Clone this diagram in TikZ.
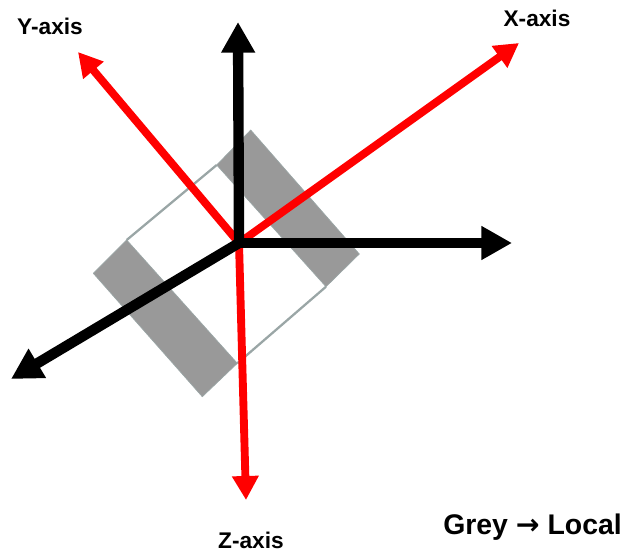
\documentclass[tikz,border=0pt]{standalone}
\usepackage{fontspec}
\setmainfont{Liberation Sans}
\newfontfamily\arrowfont{DejaVu Sans}
\usetikzlibrary{arrows.meta}
\definecolor{barfill}{HTML}{999999}
\definecolor{frameedge}{HTML}{9AA6A6}
\tikzset{
  bar/.style={fill=barfill,draw=frameedge,line width=0.5pt,line join=round},
  frameline/.style={draw=frameedge,line width=1.7pt},
  redaxis/.style={draw=red,line width=5.9pt,-{Triangle[length=18pt,width=19pt]}},
  blackaxis/.style={draw=black,line width=7.8pt,-{Triangle[length=23pt,width=24pt]}},
  axislabel/.style={inner sep=0pt,font=\bfseries\fontsize{17}{18}\selectfont},
  legend/.style={inner sep=0pt,font=\bfseries\fontsize{21.3}{24}\selectfont}
}
\begin{document}
\begin{tikzpicture}[x=0.75pt,y=-0.75pt]
\useasboundingbox (0,0) rectangle (624,552);
\fill[white] (0,0) rectangle (624,552);
% frame
\coordinate (i1) at (216.7,165);
\coordinate (t) at (250.7,130);
\coordinate (r) at (359.3,254);
\coordinate (i2) at (326,286.7);
\coordinate (l1) at (126.7,240);
\coordinate (l2) at (93.3,273.3);
\coordinate (b) at (202.3,396.7);
\coordinate (i3) at (237.3,363.3);
\draw[frameline] (i1) -- (l1);
\draw[frameline] (i2) -- (i3);
\path[bar] (i1) -- (t) -- (r) -- (i2) -- cycle;
\path[bar] (l1) -- (l2) -- (b) -- (i3) -- cycle;
% axes
\coordinate (o) at (239,243);
\coordinate (xt) at (519,43);
\coordinate (yt) at (78,52);
\coordinate (zt) at (246,500);
\coordinate (up) at (238,22);
\coordinate (right) at (512,243);
\coordinate (sw) at (11,379);
\draw[redaxis] (o) -- (xt);
\draw[redaxis] (o) -- (yt);
\draw[redaxis] (o) -- (zt);
\draw[blackaxis] (o) -- (up);
\draw[blackaxis] (o) -- (right);
\draw[blackaxis] (o) -- (sw);
% labels
\node[axislabel] (ylab) at (50,26) {Y-axis};
\node[axislabel] (xlab) at (537,18) {X-axis};
\node[axislabel] (zlab) at (251,540) {Z-axis};
\node[legend,anchor=west] (leg) at (443,527) {Grey {\arrowfont\bfseries →} Local};
\end{tikzpicture}
\end{document}
